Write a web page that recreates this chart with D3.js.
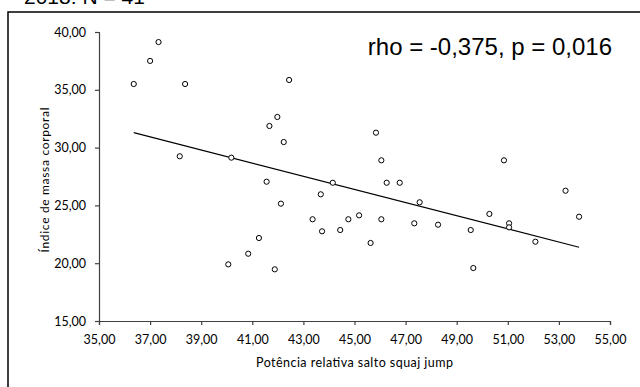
<!DOCTYPE html>
<html>
<head>
<meta charset="utf-8">
<script src="https://cdn.jsdelivr.net/npm/d3@7"></script>
<style>
  html, body { margin: 0; padding: 0; background: #fff; }
  svg { display: block; }
</style>
</head>
<body>
<div id="chart"></div>
<script>
// ── Data ───────────────────────────────────────────────────────────────────
const potencia = [
  36.36, 37.00, 37.33, 38.37, 42.44, 41.98, 41.67, 42.23, 38.16, 40.18,
  41.56, 42.12, 41.26, 40.84, 40.06, 41.88, 45.84, 46.05, 50.85, 44.15,
  46.26, 46.77, 43.68, 47.55, 43.36, 43.73, 44.44, 44.76, 45.18, 46.05,
  45.63, 47.34, 48.27, 49.55, 49.65, 50.28, 51.05, 51.05, 52.08, 53.26,
  53.79
];
const imc = [
  35.50, 37.50, 39.13, 35.50, 35.85, 32.65, 31.87, 30.48, 29.25, 29.13,
  27.05, 25.15, 22.18, 20.82, 19.90, 19.47, 31.29, 28.90, 28.90, 26.96,
  26.96, 26.96, 25.96, 25.27, 23.80, 22.76, 22.87, 23.80, 24.14, 23.80,
  21.75, 23.45, 23.33, 22.87, 19.58, 24.26, 23.45, 23.10, 21.86, 26.27,
  24.02
];
const xTicks = [35, 37, 39, 41, 43, 45, 47, 49, 51, 53, 55];
const yTicks = [15, 20, 25, 30, 35, 40];
const titleText = '2018: N = 41';
const statText = 'rho = -0,375, p = 0,016';
const xTitle = 'Potência relativa salto squaj jump';
const yTitle = 'Índice de massa corporal';

const W = 640, H = 387;
const labelFont = 'Lato, "Open Sans", sans-serif';
const bigFont = '"Liberation Sans", Arial, sans-serif';
const fmt = v => v.toFixed(2).replace('.', ',');

const svg = d3.select('#chart').append('svg')
  .attr('width', W).attr('height', H);

// ── Outer frame (runs off the right and bottom edges) ─────────────────────
svg.append('rect')
  .attr('x', 8).attr('y', 12)
  .attr('width', 700).attr('height', 500)
  .attr('fill', 'none')
  .attr('stroke', '#000')
  .attr('stroke-width', 1.5);

// Title, mostly cut off by the top edge (as in the reference)
svg.append('text')
  .attr('x', 24).attr('y', 4)
  .attr('font-family', bigFont)
  .attr('font-size', '21px')
  .attr('fill', '#000')
  .text(titleText);

// ── Scales ────────────────────────────────────────────────────────────────
const x = d3.scaleLinear().domain([35, 55]).range([99, 610]);
const y = d3.scaleLinear().domain([15, 40]).range([321, 32]);

// ── Axes ──────────────────────────────────────────────────────────────────
const xAxis = svg.append('g')
  .attr('transform', `translate(0,${y(15)})`)
  .call(d3.axisBottom(x).tickValues(xTicks).tickFormat(fmt).tickSize(4).tickPadding(10));
const yAxis = svg.append('g')
  .attr('transform', `translate(${x(35)},0)`)
  .call(d3.axisLeft(y).tickValues(yTicks).tickFormat(fmt).tickSize(4).tickPadding(9));

for (const ax of [xAxis, yAxis]) {
  ax.select('.domain').attr('stroke', '#404040').attr('stroke-width', 1.2);
  ax.selectAll('.tick line').attr('stroke', '#404040').attr('stroke-width', 1.2);
  ax.selectAll('.tick text')
    .attr('fill', '#000')
    .attr('font-family', labelFont)
    .attr('font-size', '12.5px');
}

// Axis titles
svg.append('text')
  .attr('x', x(45)).attr('y', 367)
  .attr('text-anchor', 'middle')
  .attr('font-family', labelFont)
  .attr('font-size', '12.5px')
  .attr('textLength', 197)
  .attr('lengthAdjust', 'spacing')
  .attr('fill', '#000')
  .text(xTitle);

svg.append('text')
  .attr('transform', `translate(49,${y(27.2)}) rotate(-90)`)
  .attr('text-anchor', 'middle')
  .attr('font-family', labelFont)
  .attr('font-size', '12px')
  .attr('textLength', 145)
  .attr('lengthAdjust', 'spacing')
  .attr('fill', '#000')
  .text(yTitle);

// ── Linear trend (least squares on the points) ────────────────────────────
const mx = d3.mean(potencia), my = d3.mean(imc);
let sxy = 0, sxx = 0;
potencia.forEach((v, i) => { sxy += (v - mx) * (imc[i] - my); sxx += (v - mx) ** 2; });
const slope = sxy / sxx;
const fit = v => my + slope * (v - mx);
const xExt = d3.extent(potencia);

svg.append('line')
  .attr('x1', x(xExt[0])).attr('y1', y(fit(xExt[0])))
  .attr('x2', x(xExt[1])).attr('y2', y(fit(xExt[1])))
  .attr('stroke', '#000')
  .attr('stroke-width', 1.2);

// ── Points ────────────────────────────────────────────────────────────────
svg.append('g')
  .selectAll('circle')
  .data(potencia.map((v, i) => [v, imc[i]]))
  .join('circle')
  .attr('cx', d => x(d[0]))
  .attr('cy', d => y(d[1]))
  .attr('r', 2.6)
  .attr('fill', '#fff')
  .attr('stroke', '#000')
  .attr('stroke-width', 1);

// Stat label
svg.append('text')
  .attr('x', 612).attr('y', 55)
  .attr('text-anchor', 'end')
  .attr('font-family', bigFont)
  .attr('font-size', '24px')
  .attr('fill', '#000')
  .text(statText);
</script>
</body>
</html>
